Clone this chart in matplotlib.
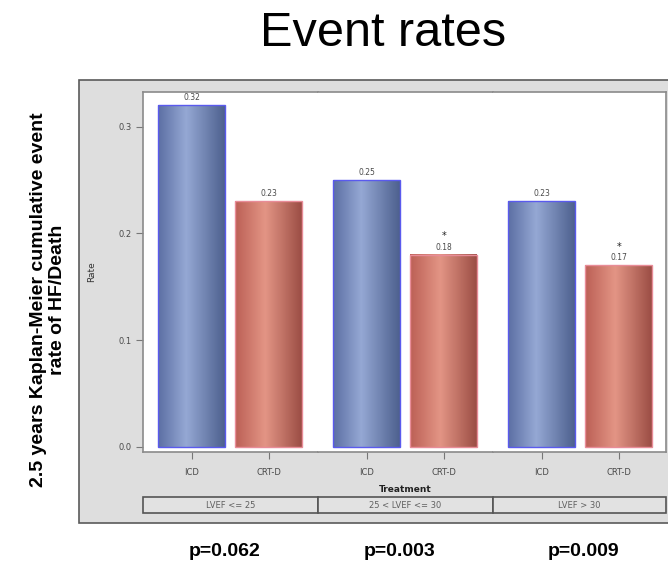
import matplotlib
matplotlib.use("Agg")
import matplotlib.pyplot as plt
from matplotlib.colors import LinearSegmentedColormap
from matplotlib.patches import Rectangle
import numpy as np

# data
panels = ["LVEF <= 25", "25 < LVEF <= 30", "LVEF > 30"]
treatments = ["ICD", "CRT-D"]
icd_rates = [0.32, 0.25, 0.23]
crtd_rates = [0.23, 0.18, 0.17]
crtd_star = [False, True, True]
p_values = ["p=0.062", "p=0.003", "p=0.009"]
y_ticks = [0.0, 0.1, 0.2, 0.3]

W, H = 668, 562
fig = plt.figure(figsize=(W / 100, H / 100), dpi=100)
fig.patch.set_facecolor("white")


def px(x0, y0, x1, y1):
    return [x0 / W, 1 - y1 / H, (x1 - x0) / W, (y1 - y0) / H]


blue_cm = LinearSegmentedColormap.from_list(
    "b", [(0, "#5d70a4"), (0.42, "#95a8d4"), (1, "#4e618f")])
red_cm = LinearSegmentedColormap.from_list(
    "r", [(0, "#bc6056"), (0.45, "#e39585"), (1, "#9c4e45")])

# grey outer panel
bg = fig.add_axes(px(0, 0, W, H), zorder=0)
bg.set_xlim(0, W)
bg.set_ylim(H, 0)
bg.axis("off")
bg.add_patch(Rectangle((79, 80), 600, 443, facecolor="#dedede",
                       edgecolor="#5a5a5a", linewidth=1.2))

ink = "#4a4a4a"
grad = np.linspace(0, 1, 64).reshape(1, -1)
unit = 77.0
edges = [142.7, 318, 493, 665.7]
bar_w = 67 / unit

for i in range(3):
    x0, x1 = edges[i], edges[i + 1]
    ax = fig.add_axes(px(x0, 91.7, x1, 452.3), zorder=2)
    ax.set_facecolor("white")
    left = -48.9 / unit
    vals = [icd_rates[i], crtd_rates[i]]
    for j, v in enumerate(vals):
        cm = blue_cm if j == 0 else red_cm
        ax.imshow(grad, cmap=cm, aspect="auto", interpolation="bilinear",
                  extent=[j - bar_w / 2, j + bar_w / 2, 0, v], zorder=2)
        ax.add_patch(Rectangle((j - bar_w / 2, 0), bar_w, v, fill=False,
                               edgecolor="#5a5aee" if j == 0 else "#e88c98",
                               linewidth=1.0, zorder=3))
        ax.text(j, v + 0.003, f"{v:.2f}", ha="center", va="bottom",
                fontsize=5.5, color=ink)
        if j == 1 and crtd_star[i]:
            ax.text(j, v + 0.013, "*", ha="center", va="bottom",
                    fontsize=7, color="#222222")
    ax.set_xlim(left, left + (x1 - x0) / unit)
    ax.set_ylim(-0.005, 0.3327)
    ax.set_xticks([0, 1])
    ax.set_xticklabels(treatments, fontsize=6, color=ink)
    ax.tick_params(axis="x", length=5, color="#777777", pad=6)
    for s in ax.spines.values():
        s.set_color("#8a8a8a")
        s.set_linewidth(1.2)
    if i == 0:
        ax.set_yticks(y_ticks)
        ax.set_yticklabels([f"{t:.1f}" for t in y_ticks], fontsize=6, color=ink)
        ax.tick_params(axis="y", length=5, color="#777777", pad=3)
        ax.set_ylabel("Rate", fontsize=6.5, color="#333333", labelpad=16)
    else:
        ax.set_yticks([])
        ax.spines["left"].set_visible(False)
    if i < 2:
        ax.spines["right"].set_visible(False)

    # strip label below each panel
    bg.add_patch(Rectangle((x0, 497), x1 - x0, 16, facecolor="#e2e2e2",
                           edgecolor="#555555", linewidth=1.2, zorder=3))
    bg.text((x0 + x1) / 2, 505, panels[i], ha="center", va="center",
            fontsize=6, color="#606060", zorder=4)
    bg.text([225, 400, 584][i], 551, p_values[i], ha="center", va="center",
            fontsize=14, fontweight="bold", family="Liberation Sans",
            color="black")

bg.text(405, 489, "Treatment", ha="center", va="center", fontsize=6.5,
        fontweight="bold", color="#222222")

fig.text(383 / W, 1 - 34 / H, "Event rates", ha="center", va="center",
         fontsize=35, family="Liberation Sans", color="black")
fig.text(48 / W, 1 - 300 / H,
         "2.5 years Kaplan-Meier cumulative event\nrate of HF/Death",
         ha="center", va="center", rotation=90, fontsize=14,
         fontweight="bold", family="Liberation Sans", linespacing=1.15)

fig.savefig("out.png", dpi=100)
